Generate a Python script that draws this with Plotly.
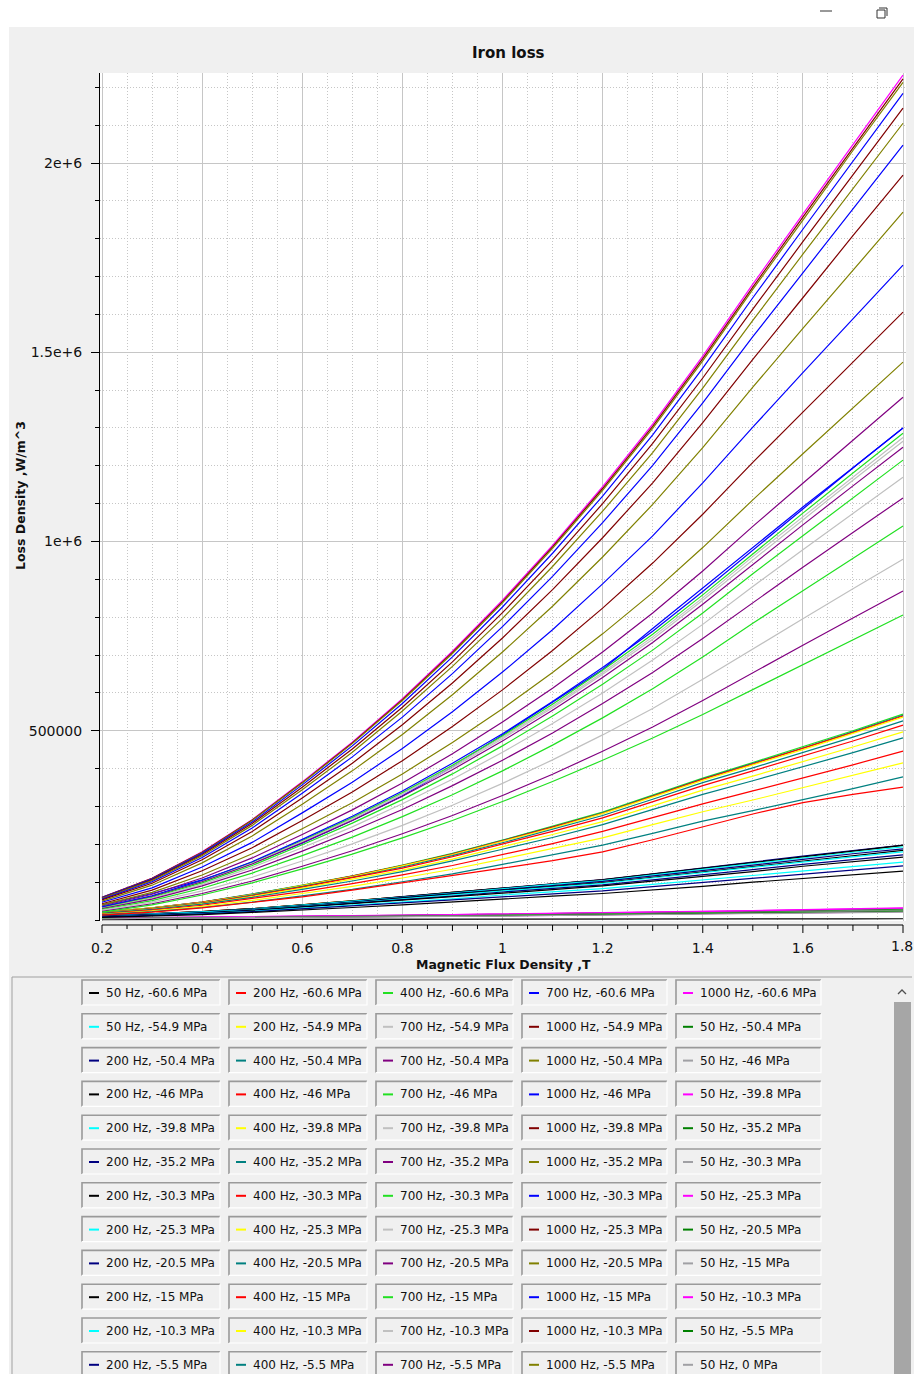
import plotly.graph_objects as go

# Magnetic flux density sample points (T)
FLUX_DENSITY_T = [0.2, 0.3, 0.4, 0.5, 0.6, 0.7, 0.8, 0.9, 1.0, 1.1, 1.2,
                  1.3, 1.4, 1.5, 1.6, 1.7, 1.8]

FREQUENCIES_HZ = [50, 200, 400, 700, 1000]
STRESSES_MPA = ["-60.6", "-54.9", "-50.4", "-46", "-39.8", "-35.2", "-30.3",
                "-25.3", "-20.5", "-15", "-10.3", "-5.5", "0"]

# Iron loss density in kW/m^3 for each stress level
LOSS_50HZ = {
    "-60.6": [1.0, 1.0, 1.1, 1.2, 1.3, 1.4, 1.5, 1.6, 1.8, 2.0, 2.1, 2.3, 2.5, 2.7, 2.9, 3.1, 3.3],
    "-54.9": [4.2, 5.1, 5.9, 7.2, 8.4, 9.7, 11.0, 12.2, 13.5, 14.8, 16.0, 17.7, 19.4, 21.1, 23.2, 24.9, 27.0],
    "-50.4": [4.7, 5.6, 6.6, 8.0, 9.4, 10.8, 12.2, 13.6, 15.0, 16.4, 17.8, 19.7, 21.6, 23.4, 25.8, 27.7, 30.0],
    "-46":   [4.5, 5.4, 6.3, 7.7, 9.1, 10.4, 11.8, 13.1, 14.5, 15.9, 17.2, 19.0, 20.8, 22.7, 24.9, 26.7, 29.0],
    "-39.8": [5.0, 6.0, 7.0, 8.5, 10.0, 11.5, 13.0, 14.5, 16.0, 17.5, 19.0, 21.0, 23.0, 25.0, 27.5, 29.5, 32.0],
    "-35.2": [4.4, 5.3, 6.1, 7.4, 8.8, 10.1, 11.4, 12.7, 14.0, 15.3, 16.6, 18.4, 20.1, 21.9, 24.1, 25.8, 28.0],
    "-30.3": [4.1, 4.9, 5.7, 6.9, 8.1, 9.3, 10.6, 11.8, 13.0, 14.2, 15.4, 17.1, 18.7, 20.3, 22.3, 24.0, 26.0],
    "-25.3": [4.8, 5.8, 6.8, 8.2, 9.7, 11.1, 12.6, 14.0, 15.5, 17.0, 18.4, 20.3, 22.3, 24.2, 26.6, 28.6, 31.0],
    "-20.5": [3.9, 4.7, 5.5, 6.6, 7.8, 9.0, 10.2, 11.3, 12.5, 13.7, 14.8, 16.4, 18.0, 19.5, 21.5, 23.0, 25.0],
    "-15":   [3.8, 4.5, 5.3, 6.4, 7.5, 8.6, 9.8, 10.9, 12.0, 13.1, 14.3, 15.8, 17.3, 18.8, 20.6, 22.1, 24.0],
    "-10.3": [3.4, 4.1, 4.8, 5.8, 6.9, 7.9, 8.9, 10.0, 11.0, 12.0, 13.1, 14.4, 15.8, 17.2, 18.9, 20.3, 22.0],
    "-5.5":  [3.6, 4.3, 5.0, 6.1, 7.2, 8.3, 9.3, 10.4, 11.5, 12.6, 13.7, 15.1, 16.5, 18.0, 19.8, 21.2, 23.0],
    "0":     [3.3, 3.9, 4.6, 5.6, 6.6, 7.5, 8.5, 9.5, 10.5, 11.5, 12.5, 13.8, 15.1, 16.4, 18.0, 19.4, 21.0],
}

LOSS_200HZ = {
    "-60.6": [11, 16, 22, 30, 40, 50, 61, 73, 84, 95, 106, 121, 136, 152, 168, 183, 197],
    "-54.9": [11, 16, 22, 30, 40, 50, 61, 73, 84, 95, 106, 121, 136, 152, 168, 183, 197],
    "-50.4": [11, 16, 22, 30, 40, 50, 62, 73, 85, 96, 107, 122, 137, 153, 169, 184, 198],
    "-46":   [11, 16, 22, 30, 40, 50, 61, 73, 84, 95, 106, 121, 136, 152, 168, 183, 197],
    "-39.8": [11, 16, 21, 29, 39, 49, 60, 71, 83, 94, 104, 119, 134, 149, 165, 179, 193],
    "-35.2": [10, 15, 21, 28, 38, 47, 59, 69, 81, 91, 102, 116, 130, 145, 160, 175, 188],
    "-30.3": [10, 15, 20, 28, 37, 46, 58, 68, 79, 89, 99, 113, 127, 142, 157, 171, 184],
    "-25.3": [10, 15, 20, 27, 36, 45, 56, 66, 77, 87, 97, 111, 125, 139, 154, 167, 180],
    "-20.5": [10, 14, 19, 26, 35, 43, 54, 63, 74, 83, 93, 106, 119, 133, 147, 160, 172],
    "-15":   [9, 13, 18, 25, 34, 42, 52, 61, 71, 80, 90, 102, 115, 128, 142, 154, 166],
    "-10.3": [8, 12, 17, 23, 31, 39, 48, 56, 66, 74, 83, 94, 106, 118, 131, 142, 153],
    "-5.5":  [8, 12, 16, 22, 29, 36, 45, 53, 61, 69, 77, 88, 99, 110, 122, 133, 143],
    "0":     [7, 10, 14, 20, 26, 33, 40, 48, 55, 63, 70, 79, 89, 100, 110, 120, 129],
}

LOSS_400HZ = {
    "-60.6": [20, 32, 47, 68, 92, 117, 145, 176, 211, 247, 285, 330, 375, 416, 457, 500, 544],
    "-50.4": [20, 32, 47, 68, 91, 116, 144, 175, 210, 246, 283, 328, 373, 414, 454, 497, 541],
    "-46":   [20, 32, 47, 67, 91, 116, 144, 174, 209, 245, 282, 327, 372, 412, 453, 495, 539],
    "-39.8": [20, 32, 46, 67, 91, 115, 143, 173, 208, 243, 281, 325, 369, 410, 450, 493, 536],
    "-35.2": [19, 31, 45, 66, 89, 113, 140, 170, 204, 239, 276, 319, 363, 402, 442, 483, 526],
    "-30.3": [19, 30, 44, 64, 87, 111, 137, 167, 200, 234, 270, 312, 355, 394, 433, 473, 515],
    "-25.3": [18, 29, 43, 62, 84, 107, 132, 161, 193, 226, 260, 301, 343, 380, 418, 457, 497],
    "-20.5": [18, 28, 42, 60, 81, 103, 128, 156, 187, 218, 252, 292, 332, 368, 404, 442, 481],
    "-15":   [16, 26, 39, 56, 75, 96, 119, 144, 173, 202, 234, 271, 307, 341, 375, 410, 446],
    "-10.3": [15, 24, 36, 52, 70, 89, 111, 134, 161, 188, 217, 252, 286, 317, 349, 381, 415],
    "-5.5":  [14, 22, 33, 47, 64, 81, 101, 122, 147, 172, 198, 229, 261, 289, 318, 347, 378],
    "0":     [13, 21, 32, 46, 61, 79, 98, 117, 137, 157, 180, 212, 246, 280, 310, 332, 351],
}

LOSS_700HZ = {
    "-60.6": [40, 70, 106, 150, 203, 263, 328, 405, 489, 575, 662, 770, 877, 985, 1091, 1195, 1300],
    "-54.9": [34, 63, 103, 151, 208, 268, 334, 406, 483, 565, 654, 748, 851, 960, 1065, 1171, 1275],
    "-50.4": [37, 68, 111, 164, 226, 291, 362, 439, 523, 612, 708, 811, 922, 1040, 1154, 1268, 1381],
    "-46":   [35, 63, 104, 153, 210, 271, 337, 409, 487, 570, 660, 755, 859, 968, 1075, 1181, 1286],
    "-39.8": [34, 62, 102, 150, 207, 266, 332, 402, 479, 561, 649, 742, 845, 952, 1057, 1162, 1265],
    "-35.2": [34, 62, 101, 148, 204, 263, 327, 397, 473, 554, 641, 733, 834, 940, 1044, 1147, 1249],
    "-30.3": [33, 60, 98, 144, 199, 256, 318, 386, 460, 539, 623, 713, 811, 915, 1015, 1116, 1215],
    "-25.3": [31, 58, 94, 139, 191, 246, 307, 372, 443, 519, 600, 687, 781, 881, 978, 1075, 1170],
    "-20.5": [30, 55, 90, 132, 182, 235, 292, 355, 422, 494, 572, 654, 744, 839, 932, 1024, 1115],
    "-15":   [28, 51, 84, 124, 170, 219, 273, 331, 394, 462, 534, 611, 695, 784, 870, 956, 1041],
    "-10.3": [26, 47, 77, 113, 156, 201, 250, 303, 361, 423, 489, 559, 636, 717, 796, 875, 953],
    "-5.5":  [23, 43, 70, 103, 142, 183, 228, 276, 329, 385, 446, 510, 580, 654, 726, 798, 869],
    "0":     [21, 40, 66, 98, 135, 174, 217, 263, 313, 366, 422, 481, 543, 609, 675, 741, 806],
}

LOSS_1000HZ = {
    "-60.6": [60, 110, 180, 265, 365, 470, 585, 710, 845, 990, 1145, 1310, 1490, 1680, 1865, 2050, 2232],
    "-54.9": [60, 110, 179, 264, 363, 468, 582, 707, 841, 986, 1140, 1304, 1483, 1672, 1857, 2041, 2222],
    "-50.4": [59, 109, 178, 263, 362, 466, 580, 704, 838, 982, 1135, 1299, 1477, 1666, 1849, 2033, 2213],
    "-46":   [59, 108, 176, 259, 357, 460, 572, 695, 827, 969, 1120, 1282, 1458, 1644, 1825, 2006, 2184],
    "-39.8": [58, 106, 173, 255, 351, 452, 562, 682, 812, 951, 1100, 1259, 1432, 1614, 1792, 1970, 2145],
    "-35.2": [57, 104, 170, 250, 344, 443, 552, 670, 797, 934, 1080, 1235, 1405, 1584, 1759, 1933, 2105],
    "-30.3": [55, 101, 165, 243, 335, 431, 536, 651, 775, 908, 1050, 1201, 1366, 1541, 1710, 1880, 2047],
    "-25.3": [53, 97, 159, 234, 322, 414, 516, 626, 745, 873, 1010, 1155, 1314, 1481, 1644, 1808, 1968],
    "-20.5": [50, 92, 151, 222, 306, 394, 490, 595, 708, 829, 959, 1098, 1248, 1408, 1563, 1718, 1870],
    "-15":   [47, 85, 140, 205, 283, 364, 453, 550, 655, 767, 888, 1015, 1155, 1302, 1446, 1589, 1730],
    "-10.3": [43, 79, 130, 191, 263, 338, 421, 511, 608, 712, 824, 943, 1072, 1209, 1342, 1475, 1606],
    "-5.5":  [40, 73, 119, 175, 241, 310, 386, 469, 558, 654, 756, 865, 984, 1110, 1232, 1354, 1474],
    "0":     [35, 64, 105, 154, 213, 274, 341, 414, 492, 577, 667, 763, 868, 978, 1086, 1194, 1300],
}

LOSS_BY_FREQUENCY = {50: LOSS_50HZ, 200: LOSS_200HZ, 400: LOSS_400HZ,
                     700: LOSS_700HZ, 1000: LOSS_1000HZ}

# Qt-style curve palette, cycled in series order
CURVE_COLORS = ["#000000", "#ff0000", "#22e022", "#0000ff", "#ff00ff",
                "#00ffff", "#ffff00", "#c0c0c0", "#800000", "#008000",
                "#000080", "#008080", "#800080", "#808000", "#a0a0a4"]

X_TICK_VALUES = [0.2, 0.4, 0.6, 0.8, 1.0, 1.2, 1.4, 1.6, 1.8]
X_TICK_TEXT = ["0.2", "0.4", "0.6", "0.8", "1", "1.2", "1.4", "1.6", "1.8"]
Y_TICK_VALUES = [500000, 1000000, 1500000, 2000000]
Y_TICK_TEXT = ["500000", "1e+6", "1.5e+6", "2e+6"]

# ---- page geometry (pixels) ----
W, H = 914, 1374
PL, PR, PT, PB = 100, 906, 73, 921          # plot canvas
X_PX_02, X_PX_18 = 102, 903                 # scale ends on the canvas
Y_PX_ZERO, Y_PX_2M = 920, 163

x_per_px = (1.8 - 0.2) / (X_PX_18 - X_PX_02)
x_range = [0.2 - (X_PX_02 - PL) * x_per_px, 1.8 + (PR - X_PX_18) * x_per_px]
y_per_px = 2e6 / (Y_PX_ZERO - Y_PX_2M)
y_range = [-(PB - Y_PX_ZERO) * y_per_px, (Y_PX_ZERO - PT) * y_per_px]


def pxx(x):
    return (x - PL) / (PR - PL)


def pxy(y):
    return (PB - y) / (PB - PT)


FONT = "DejaVu Sans"
BG = "#f0f0f0"

# series in legend order
series = []
for stress in STRESSES_MPA:
    for freq in FREQUENCIES_HZ:
        if stress in LOSS_BY_FREQUENCY[freq]:
            series.append((freq, stress))

fig = go.Figure()
for i, (freq, stress) in enumerate(series):
    vals = LOSS_BY_FREQUENCY[freq][stress]
    fig.add_trace(go.Scatter(
        x=FLUX_DENSITY_T,
        y=[v * 1000 for v in vals],
        mode="lines",
        line=dict(color=CURVE_COLORS[i % len(CURVE_COLORS)], width=1.2),
        name=f"{freq} Hz, {stress} MPa",
        showlegend=False,
    ))

shapes = []
annotations = []


def line_px(x0, y0, x1, y1, color, width=1):
    shapes.append(dict(type="line", xref="paper", yref="paper",
                       x0=pxx(x0), y0=pxy(y0), x1=pxx(x1), y1=pxy(y1),
                       line=dict(color=color, width=width)))


def rect_px(x0, y0, x1, y1, fill, layer="above"):
    shapes.append(dict(type="rect", xref="paper", yref="paper", layer=layer,
                       x0=pxx(x0), y0=pxy(y0), x1=pxx(x1), y1=pxy(y1),
                       fillcolor=fill, line=dict(color=fill, width=0)))


def path_px(points, color, width=1):
    d = "M " + " L ".join(f"{pxx(a):.5f},{pxy(b):.5f}" for a, b in points)
    shapes.append(dict(type="path", xref="paper", yref="paper", path=d,
                       line=dict(color=color, width=width)))


# window strip above the application frame
rect_px(0, 0, W, 27, "white")
rect_px(0, 27, 9, H, "white")
line_px(820, 11, 832, 11, "#333333", 1)
path_px([(877, 10), (877, 18), (885, 18), (885, 10), (877, 10)], "#333333", 1)
path_px([(879, 8), (887, 8), (887, 16)], "#333333", 1)

# x axis backbone and ticks (major 0.2, medium 0.1, minor 0.05)
axis_y = 925
shapes.append(dict(type="line", xref="x", yref="paper", x0=0.2, x1=1.8,
                   y0=pxy(axis_y), y1=pxy(axis_y), line=dict(color="black", width=1)))
for k in range(33):
    b = 0.2 + 0.05 * k
    ln = 8 if k % 4 == 0 else (6 if k % 2 == 0 else 4)
    shapes.append(dict(type="line", xref="x", yref="paper", x0=b, x1=b,
                       y0=pxy(axis_y), y1=pxy(axis_y + ln),
                       line=dict(color="black", width=1)))

# the last scale label sits on the right page edge
annotations.append(dict(text=X_TICK_TEXT[-1], x=X_TICK_VALUES[-1], y=pxy(946),
                        xref="x", yref="paper", showarrow=False,
                        xanchor="center", yanchor="middle", xshift=-1,
                        font=dict(family=FONT, size=14, color="#111111")))

# titles
annotations.append(dict(text="<b>Iron loss</b>", x=pxx(508), y=pxy(53),
                        xref="paper", yref="paper", showarrow=False,
                        xanchor="center", yanchor="middle",
                        font=dict(family=FONT, size=15, color="#111111")))
annotations.append(dict(text="<b>Magnetic Flux Density ,T</b>", x=pxx(503), y=pxy(964),
                        xref="paper", yref="paper", showarrow=False,
                        xanchor="center", yanchor="middle",
                        font=dict(family=FONT, size=12.5, color="#111111")))
annotations.append(dict(text="<b>Loss Density ,W/m^3</b>", x=pxx(20), y=pxy(496),
                        xref="paper", yref="paper", showarrow=False, textangle=-90,
                        xanchor="center", yanchor="middle",
                        font=dict(family=FONT, size=12.5, color="#111111")))

# legend panel
line_px(12, 977, 912, 977, "#a0a0a0", 1)
line_px(12, 977, 12, H, "#a0a0a0", 1)
rect_px(894, 1002, 911, H + 2, "#a6a6a6")
path_px([(898, 994), (902, 990), (906, 994)], "#505050", 1.3)

COL_LEFT = [82, 229, 376, 522, 676]
COL_RIGHT = [220, 367, 513, 667, 821]
ROW_TOP0, ROW_PITCH, BOX_H = 980, 33.8, 25
for i, (freq, stress) in enumerate(series):
    r, c = divmod(i, 5)
    top = ROW_TOP0 + r * ROW_PITCH
    if top > H:
        break
    left, right = COL_LEFT[c], COL_RIGHT[c]
    bottom = top + BOX_H
    mid = top + BOX_H / 2 + 0.5
    path_px([(left, bottom), (left, top), (right, top)], "#9a9a9a", 1.6)
    path_px([(right, top), (right, bottom), (left, bottom)], "#ffffff", 1.2)
    line_px(left + 7, mid, left + 17, mid, CURVE_COLORS[i % len(CURVE_COLORS)], 2)
    annotations.append(dict(text=f"{freq} Hz, {stress} MPa", x=pxx(left + 22), y=pxy(mid),
                            xref="paper", yref="paper", showarrow=False,
                            xanchor="left", yanchor="middle",
                            font=dict(family=FONT, size=12, color="#111111")))

grid_color = "#c6c6c6"
fig.update_layout(
    width=W, height=H,
    margin=dict(l=PL, r=W - PR, t=PT, b=H - PB, pad=0),
    paper_bgcolor=BG, plot_bgcolor="white",
    showlegend=False,
    shapes=shapes, annotations=annotations,
    xaxis=dict(
        range=x_range, tickmode="array", tickvals=X_TICK_VALUES,
        ticktext=X_TICK_TEXT[:-1] + [""],
        ticks="outside", ticklen=14, tickcolor="rgba(0,0,0,0)",
        tickfont=dict(family=FONT, size=14, color="#111111"),
        showgrid=True, gridcolor=grid_color, gridwidth=1,
        showline=False, zeroline=False,
        minor=dict(tickmode="linear", tick0=0.2, dtick=0.05, showgrid=True,
                   gridcolor=grid_color, griddash="1px,2px", gridwidth=1, ticks=""),
    ),
    yaxis=dict(
        range=y_range, tickmode="array", tickvals=Y_TICK_VALUES, ticktext=Y_TICK_TEXT,
        ticks="outside", ticklen=8, tickcolor="black", tickwidth=1,
        ticklabelstandoff=6,
        tickfont=dict(family=FONT, size=14, color="#111111"),
        showgrid=True, gridcolor=grid_color, gridwidth=1,
        showline=True, linecolor="black", linewidth=1, zeroline=False,
        minor=dict(tickmode="linear", tick0=0, dtick=100000, showgrid=True,
                   gridcolor=grid_color, griddash="1px,2px", gridwidth=1,
                   ticks="outside", ticklen=4, tickcolor="black"),
    ),
)

fig.write_html("out.html", config={"displayModeBar": False})
